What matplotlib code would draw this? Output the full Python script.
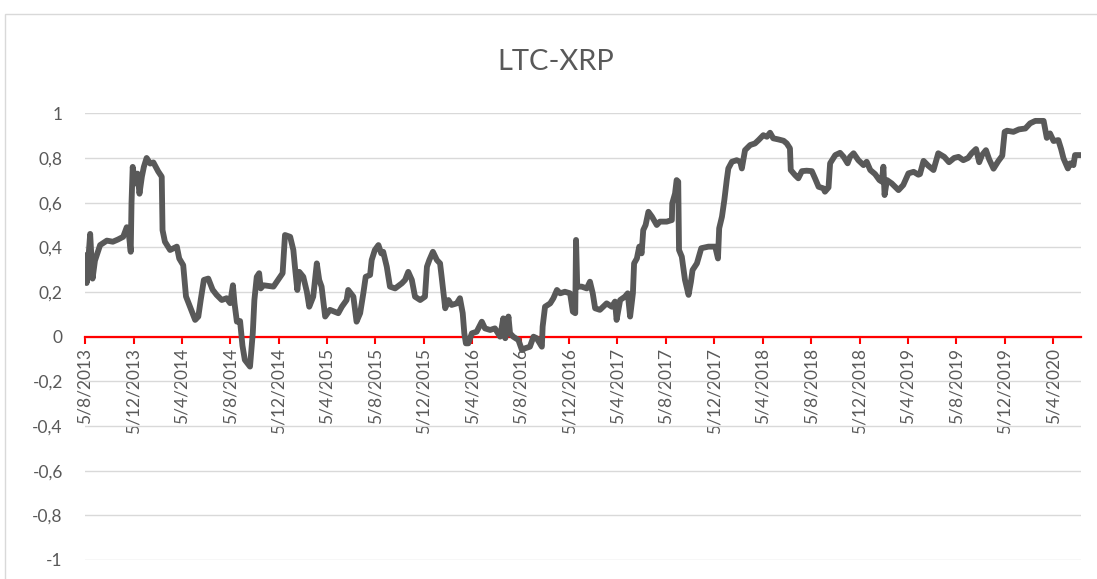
import matplotlib
matplotlib.use('Agg')
import matplotlib.pyplot as plt
from matplotlib.patches import Rectangle
import numpy as np
import pandas as pd

plt.rcParams['font.family'] = ['Lato', 'DejaVu Sans']

# rolling correlation LTC-XRP
start = '2013-08-05'
days = [0, 4, 13, 19, 25, 38, 55, 70, 83, 96, 105, 111, 115, 117, 120, 126, 132, 137, 143, 148,
        155, 164, 172, 184, 193, 195, 201, 214, 231, 237, 247, 254, 264, 277, 285, 291, 299, 310, 321, 331,
        344, 356, 365, 372, 376, 382, 390, 396, 402, 415, 422, 426, 432, 438, 442, 449, 474, 491, 497, 503,
        516, 524, 528, 534, 539, 549, 558, 564, 574, 583, 589, 595, 604, 616, 637, 646, 658, 662, 675, 683,
        692, 700, 706, 717, 721, 729, 738, 745, 750, 759, 767, 780, 797, 805, 813, 822, 830, 843, 855, 860,
        866, 875, 885, 893, 897, 906, 914, 922, 935, 943, 950, 954, 958, 964, 973, 985, 998, 1006, 1019, 1031,
        1044, 1052, 1057, 1065, 1069, 1077, 1090, 1099, 1107, 1119, 1128, 1136, 1149, 1151, 1157, 1170, 1178, 1187, 1195, 1207,
        1220, 1227, 1233, 1235, 1238, 1249, 1262, 1270, 1277, 1283, 1295, 1312, 1325, 1333, 1337, 1346, 1358, 1365, 1371, 1378,
        1381, 1388, 1394, 1400, 1404, 1410, 1417, 1426, 1438, 1446, 1463, 1476, 1477, 1484, 1488, 1492, 1494, 1501, 1509, 1518,
        1524, 1528, 1539, 1550, 1568, 1585, 1592, 1595, 1602, 1608, 1614, 1618, 1627, 1639, 1648, 1652, 1660, 1673, 1685, 1694,
        1706, 1715, 1723, 1731, 1744, 1757, 1765, 1773, 1775, 1786, 1794, 1803, 1815, 1828, 1836, 1845, 1857, 1861, 1870, 1874,
        1887, 1899, 1908, 1918, 1924, 1933, 1945, 1958, 1966, 1975, 1987, 1998, 2004, 2008, 2011, 2017, 2029, 2046, 2058, 2071,
        2084, 2096, 2100, 2109, 2121, 2134, 2146, 2161, 2173, 2186, 2197, 2209, 2221, 2230, 2241, 2249, 2256, 2266, 2274, 2285,
        2297, 2307, 2313, 2319, 2335, 2349, 2365, 2377, 2390, 2411, 2419, 2427, 2436, 2448, 2455, 2461, 2472, 2478, 2486, 2490,
        2504]
corr = [0.365, 0.24, 0.46, 0.26, 0.34, 0.41, 0.43, 0.425, 0.435, 0.447, 0.49, 0.447, 0.38, 0.60, 0.76, 0.686, 0.73, 0.64, 0.716, 0.76,
        0.80, 0.775, 0.78, 0.74, 0.716, 0.477, 0.425, 0.388, 0.403, 0.35, 0.32, 0.18, 0.134, 0.075, 0.09, 0.164, 0.254, 0.26, 0.21, 0.187,
        0.164, 0.172, 0.15, 0.23, 0.15, 0.067, 0.07, -0.04, -0.104, -0.134, 0.016, 0.164, 0.268, 0.284, 0.216, 0.23, 0.224, 0.268, 0.284, 0.455,
        0.447, 0.388, 0.313, 0.209, 0.29, 0.268, 0.201, 0.134, 0.179, 0.328, 0.254, 0.224, 0.09, 0.12, 0.105, 0.134, 0.164, 0.209, 0.179, 0.067,
        0.105, 0.194, 0.268, 0.276, 0.343, 0.388, 0.41, 0.373, 0.38, 0.313, 0.224, 0.216, 0.239, 0.254, 0.29, 0.254, 0.179, 0.164, 0.179, 0.313,
        0.343, 0.38, 0.343, 0.328, 0.268, 0.127, 0.164, 0.142, 0.149, 0.172, 0.105, 0.015, -0.03, -0.03, 0.015, 0.022, 0.067, 0.037, 0.03, 0.037,
        0.0, 0.082, -0.007, 0.09, 0.015, 0.0, -0.015, -0.06, -0.052, -0.045, 0.0, -0.007, -0.045, 0.045, 0.134, 0.149, 0.172, 0.209, 0.194, 0.201,
        0.194, 0.112, 0.105, 0.433, 0.224, 0.224, 0.216, 0.246, 0.194, 0.127, 0.12, 0.149, 0.134, 0.157, 0.075, 0.164, 0.179, 0.194, 0.09, 0.194,
        0.328, 0.35, 0.403, 0.373, 0.477, 0.5, 0.559, 0.537, 0.5, 0.515, 0.515, 0.522, 0.597, 0.641, 0.701, 0.694, 0.388, 0.358, 0.254, 0.187,
        0.246, 0.298, 0.328, 0.396, 0.403, 0.403, 0.35, 0.485, 0.537, 0.612, 0.701, 0.753, 0.783, 0.79, 0.783, 0.753, 0.835, 0.858, 0.865, 0.88,
        0.902, 0.895, 0.913, 0.888, 0.883, 0.877, 0.865, 0.843, 0.746, 0.723, 0.709, 0.741, 0.743, 0.741, 0.709, 0.671, 0.664, 0.649, 0.668, 0.776,
        0.813, 0.823, 0.805, 0.776, 0.805, 0.821, 0.79, 0.768, 0.783, 0.746, 0.728, 0.701, 0.694, 0.761, 0.634, 0.701, 0.686, 0.656, 0.679, 0.731,
        0.738, 0.725, 0.728, 0.787, 0.765, 0.746, 0.821, 0.805, 0.781, 0.80, 0.805, 0.79, 0.80, 0.821, 0.84, 0.781, 0.813, 0.835, 0.794, 0.752,
        0.786, 0.81, 0.917, 0.922, 0.917, 0.928, 0.932, 0.955, 0.966, 0.966, 0.89, 0.91, 0.876, 0.88, 0.84, 0.798, 0.753, 0.776, 0.768, 0.813,
        0.813]

y_ticks = [-1, -0.8, -0.6, -0.4, -0.2, 0, 0.2, 0.4, 0.6, 0.8, 1]

dates = pd.Timestamp(start) + pd.to_timedelta(days, unit='D')
x_ticks = pd.date_range(start, periods=21, freq=pd.DateOffset(months=4))
x_labels = [f"{d.day}/{d.month}/{d.year}" for d in x_ticks]
y_labels = [f"{v:g}".replace('.', ',') for v in y_ticks]

txt = '#595959'
fig = plt.figure(figsize=(10.97, 5.79), dpi=100)
fig.patches.append(Rectangle((5 / 1097, -0.1), 1.2, 1.1 - 14 / 579, transform=fig.transFigure,
                             fill=False, edgecolor='#D9D9D9', linewidth=1.0))
ax = fig.add_axes([85 / 1097, 1 - 560 / 579, 996 / 1097, 446.7 / 579])

ax.plot(dates, corr, color='#595959', lw=4.2, solid_joinstyle='round', solid_capstyle='round', zorder=3)

ax.set_ylim(-1, 1)
ax.set_xlim(pd.Timestamp(start), pd.Timestamp(start) + pd.Timedelta(days=2505))
ax.set_yticks(y_ticks)
ax.set_yticklabels(y_labels)
ax.set_xticks(x_ticks)
ax.set_xticklabels(x_labels)

ax.grid(axis='y', color='#D9D9D9', lw=1.0, zorder=0)
ax.set_axisbelow(True)
for s in ['left', 'right', 'top']:
    ax.spines[s].set_visible(False)
ax.spines['bottom'].set_position(('data', 0))
ax.spines['bottom'].set_color('#FF0000')
ax.spines['bottom'].set_linewidth(1.6)
ax.spines['bottom'].set_zorder(2)
ax.tick_params(axis='x', direction='out', length=5, width=1.5, color='#FF0000',
               labelcolor=txt, labelsize=12.5, pad=3, labelrotation=90)
ax.tick_params(axis='y', length=0, labelcolor=txt, labelsize=12.5, pad=16)

fig.text(556 / 1097, 1 - 62 / 579, 'LTC-XRP', ha='center', va='center', fontsize=21,
         color=txt)

fig.savefig('out.png', dpi=100)
